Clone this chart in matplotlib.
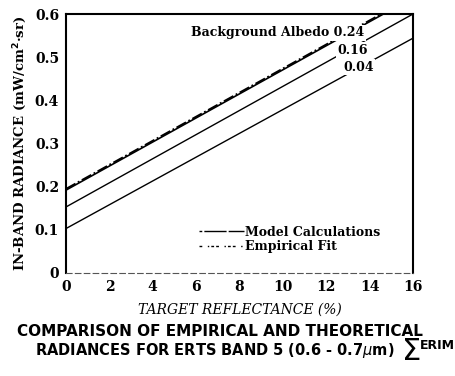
import matplotlib
matplotlib.use("Agg")
import matplotlib.pyplot as plt
from matplotlib.lines import Line2D

# ---- data ----
reflectance = [0, 16]                     # target reflectance (%)
albedo_labels = ["0.24", "0.16", "0.04"]
radiance_024 = [0.192, 0.638]             # model, albedo 0.24
radiance_016 = [0.153, 0.600]             # model, albedo 0.16
radiance_004 = [0.103, 0.544]             # model, albedo 0.04
empirical_fit = [0.195, 0.641]            # empirical fit (albedo 0.24)
xticks = [0, 2, 4, 6, 8, 10, 12, 14, 16]
yticks = [0, 0.1, 0.2, 0.3, 0.4, 0.5, 0.6]
ytick_labels = ["0", "0.1", "0.2", "0.3", "0.4", "0.5", "0.6"]

serif = "DejaVu Serif"
fig = plt.figure(figsize=(4.55, 3.76), dpi=100)
ax = fig.add_axes([66/455, (376-273)/376, 347/455, 259/376])

ax.plot(reflectance, radiance_024, color="black", lw=1.2, solid_capstyle="butt")
ax.plot(reflectance, radiance_016, color="black", lw=1.0)
ax.plot(reflectance, radiance_004, color="black", lw=1.0)
ax.plot(reflectance, empirical_fit, color="black", lw=1.3, linestyle=(0, (6, 1.5, 1, 1.5)))

ax.set_xlim(0, 16)
ax.set_ylim(0, 0.6)
ax.set_xticks(xticks)
ax.set_xticklabels([str(v) for v in xticks], fontfamily=serif, fontweight="bold", fontsize=10)
ax.set_yticks(yticks)
ax.set_yticklabels(ytick_labels, fontfamily=serif, fontweight="bold", fontsize=10)
ax.tick_params(length=0, pad=5)

for s in ["left", "top", "right"]:
    ax.spines[s].set_linewidth(1.5)
ax.spines["bottom"].set_linewidth(0.8)
ax.spines["bottom"].set_linestyle((0, (5, 3)))
ax.spines["bottom"].set_color("#555555")

# albedo labels (white box interrupts lines)
bbox = dict(facecolor="white", edgecolor="none", pad=1.0)
ax.text(13.75, 0.556, "Background Albedo " + albedo_labels[0], ha="right", va="center",
        fontfamily=serif, fontweight="bold", fontsize=9, bbox=bbox, zorder=5)
ax.text(13.2, 0.516, albedo_labels[1], ha="center", va="center",
        fontfamily=serif, fontweight="bold", fontsize=9, bbox=bbox, zorder=5)
ax.text(13.5, 0.477, albedo_labels[2], ha="center", va="center",
        fontfamily=serif, fontweight="bold", fontsize=9, bbox=bbox, zorder=5)

handles = [Line2D([], [], color="black", lw=1.0, linestyle=(0, (2, 1.5, 14, 0))),
           Line2D([], [], color="black", lw=1.0, linestyle=(0, (2, 4, 1, 1.5, 2, 1.5)))]
leg = ax.legend(handles, ["Model Calculations", "Empirical Fit"], loc="lower left",
                bbox_to_anchor=(0.35, 0.032), frameon=False, handlelength=3.6,
                handletextpad=0.1, labelspacing=0.15,
                prop=dict(family=serif, weight="bold", size=9))

ax.set_ylabel("IN-BAND RADIANCE (mW/cm$^\\mathbf{2}$·sr)", fontfamily=serif,
              fontweight="bold", fontsize=9.5, labelpad=4)
ax.set_xlabel("TARGET REFLECTANCE (%)", fontfamily=serif, fontstyle="italic",
              fontsize=10, labelpad=6)

fig.text(0.484, 0.118, "COMPARISON OF EMPIRICAL AND THEORETICAL", ha="center", va="center",
         fontfamily="DejaVu Sans", fontweight="bold", fontsize=11)
fig.text(0.472, 0.068, "RADIANCES FOR ERTS BAND 5 (0.6 - 0.7$\\mu$m)", ha="center", va="center",
         fontfamily="DejaVu Sans", fontweight="bold", fontsize=10.5)
fig.text(0.905, 0.066, "Σ", ha="center", va="center", fontfamily="DejaVu Sans",
         fontsize=22)
fig.text(0.922, 0.080, "ERIM", ha="left", va="center", fontfamily="DejaVu Sans",
         fontweight="bold", fontsize=9)

fig.savefig("out.png", dpi=100)
